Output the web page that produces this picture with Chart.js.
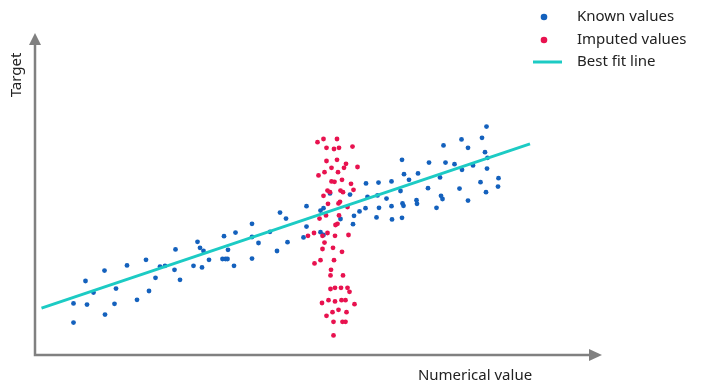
<!DOCTYPE html>
<html lang="en">
<head>
    <meta charset="UTF-8">
    <title>Imputation scatter</title>
    <script src="https://cdn.jsdelivr.net/npm/chart.js@4.4.0/dist/chart.umd.min.js"></script>
    <style>
        html, body { margin: 0; padding: 0; background: #ffffff; }
        #wrap { width: 711px; height: 390px; }
    </style>
</head>
<body>
    <div id="wrap"><canvas id="chart" width="711" height="390"></canvas></div>

    <script>
        // Known values (blue)
        const knownX = [7.7, 7.7, 10.4, 10.1, 11.7, 13.9, 14.0, 15.9, 16.2, 18.4,
            20.4, 22.2, 22.8, 24.1, 25.0, 26.0, 27.9, 28.1, 29.0, 31.7,
            32.5, 33.0, 33.4, 33.7, 34.8, 37.5, 38.1, 38.5, 37.8, 38.6,
            39.8, 40.1, 43.4, 43.4, 43.4, 44.7, 47.0, 48.4, 49.0, 50.2,
            50.5, 54.3, 54.3, 53.7, 57.1, 57.7, 59.0, 57.1, 57.7, 61.1,
            63.0, 63.8, 63.6, 64.9, 66.2, 66.1, 66.5, 68.3, 68.5, 68.7,
            68.8, 70.3, 71.3, 71.3, 71.4, 73.1, 73.4, 73.8, 73.5, 73.7,
            73.4, 74.8, 76.3, 76.4, 76.6, 78.6, 78.8, 80.3, 81.0, 81.2,
            81.5, 81.7, 82.1, 83.9, 84.9, 85.3, 85.4, 86.6, 86.6, 87.6,
            89.1, 89.4, 90.0, 90.3, 90.5, 90.4, 90.2, 92.7, 92.6];
        const knownY = [8.1, 12.9, 12.6, 18.5, 15.6, 21.1, 10.1, 12.8, 16.6, 22.4,
            13.8, 23.8, 16.0, 19.3, 22.1, 22.3, 21.3, 26.4, 18.8, 22.3,
            28.3, 26.8, 21.9, 26.0, 23.8, 24.0, 24.0, 24.0, 29.7, 26.3,
            22.3, 30.6, 32.8, 29.5, 24.1, 28.0, 30.8, 26.0, 35.6, 34.1,
            28.2, 37.2, 32.1, 29.4, 36.1, 36.7, 40.4, 30.7, 30.0, 34.0,
            40.1, 34.8, 32.7, 35.9, 42.9, 36.7, 39.5, 34.4, 39.9, 43.1,
            36.8, 39.1, 43.4, 37.2, 33.9, 41.0, 48.8, 45.2, 37.9, 37.3,
            34.3, 43.8, 38.7, 37.8, 45.4, 41.7, 48.1, 36.8, 44.4, 39.8,
            39.0, 52.4, 48.1, 47.7, 41.6, 53.9, 46.3, 51.8, 38.6, 47.4,
            43.2, 54.3, 50.7, 57.1, 49.3, 46.6, 40.7, 44.2, 42.1];

        // Imputed values (red)
        const imputedX = [56.5, 57.7, 58.3, 59.8, 60.4, 60.8, 63.5, 58.3, 60.4, 62.2,
            59.3, 61.8, 64.5, 57.9, 56.7, 60.6, 61.4, 59.3, 59.9, 63.2,
            63.7, 58.5, 59.0, 61.1, 61.6, 57.7, 58.6, 61.0, 60.7, 62.5,
            58.2, 56.9, 60.8, 60.5, 60.1, 54.6, 55.8, 57.5, 58.5, 60.0,
            62.7, 57.9, 57.5, 59.6, 61.4, 55.9, 57.1, 59.8, 59.2, 59.1,
            61.6, 59.1, 60.0, 61.2, 62.5, 62.9, 57.4, 58.7, 60.0, 61.3,
            62.1, 63.9, 60.7, 59.5, 62.3, 58.3, 59.7, 61.5, 62.1, 59.7];
        const imputedY = [53.2, 54.0, 51.8, 51.5, 54.0, 51.8, 52.1, 48.5, 48.8, 47.8,
            46.8, 46.8, 47.0, 45.7, 44.9, 45.7, 43.8, 43.4, 43.3, 42.8,
            41.3, 41.1, 40.7, 41.1, 40.7, 39.8, 37.8, 38.3, 37.9, 37.0,
            34.9, 34.1, 34.9, 32.8, 32.5, 29.8, 30.5, 29.8, 30.5, 29.8,
            30.0, 28.1, 26.5, 26.8, 25.8, 22.9, 23.7, 23.7, 21.3, 19.9,
            19.9, 16.5, 16.8, 16.8, 16.8, 15.8, 13.0, 13.7, 13.4, 13.7,
            13.7, 12.7, 11.3, 10.7, 10.7, 9.8, 8.3, 8.3, 8.3, 4.9];

        // Best fit line end points
        const fitX = [1.3, 99.0];
        const fitY = [11.7, 52.8];

        const legendLabels = ['Known values', 'Imputed values', 'Best fit line'];
        const axisTitles = { x: 'Numerical value', y: 'Target' };

        const toPoints = (xs, ys) => xs.map((x, i) => ({ x: x, y: ys[i] }));

        const BLUE = '#1461bd';
        const RED = '#e8124f';
        const CYAN = '#1ccbc4';
        const AXIS = '#808080';
        const FONT = '15px "Noto Sans", "Liberation Sans", sans-serif';

        // axes with arrow heads, axis titles and the legend
        const decorPlugin = {
            id: 'decor',
            afterDraw(chart) {
                const ctx = chart.ctx;
                const a = chart.chartArea;
                ctx.save();

                ctx.strokeStyle = AXIS;
                ctx.fillStyle = AXIS;
                ctx.lineWidth = 2.5;
                ctx.beginPath();
                ctx.moveTo(a.left, a.top + 8);
                ctx.lineTo(a.left, a.bottom);
                ctx.lineTo(a.right - 10, a.bottom);
                ctx.stroke();

                ctx.beginPath();
                ctx.moveTo(a.left, a.top - 2);
                ctx.lineTo(a.left - 6, a.top + 10);
                ctx.lineTo(a.left + 6, a.top + 10);
                ctx.closePath();
                ctx.fill();

                ctx.beginPath();
                ctx.moveTo(a.right, a.bottom);
                ctx.lineTo(a.right - 13, a.bottom - 6);
                ctx.lineTo(a.right - 13, a.bottom + 6);
                ctx.closePath();
                ctx.fill();

                ctx.fillStyle = '#222222';
                ctx.font = FONT;
                ctx.textBaseline = 'middle';
                ctx.textAlign = 'center';
                ctx.fillText(axisTitles.x, 475, 376);
                ctx.save();
                ctx.translate(17, 75);
                ctx.rotate(-Math.PI / 2);
                ctx.fillText(axisTitles.y, 0, 0);
                ctx.restore();

                // legend
                const rows = [17, 40, 62];
                ctx.textAlign = 'left';
                chart.data.datasets.forEach((ds, i) => {
                    const y = rows[i];
                    if (ds.type === 'line') {
                        ctx.strokeStyle = ds.borderColor;
                        ctx.lineWidth = 3;
                        ctx.beginPath();
                        ctx.moveTo(533, y);
                        ctx.lineTo(562, y);
                        ctx.stroke();
                    } else {
                        ctx.fillStyle = ds.backgroundColor;
                        ctx.beginPath();
                        ctx.arc(544, y, 3.3, 0, Math.PI * 2);
                        ctx.fill();
                    }
                    ctx.fillStyle = '#222222';
                    ctx.fillText(ds.label, 577, y);
                });

                ctx.restore();
            }
        };

        new Chart(document.getElementById('chart'), {
            type: 'scatter',
            data: {
                datasets: [{
                    label: legendLabels[0],
                    data: toPoints(knownX, knownY),
                    backgroundColor: BLUE,
                    borderColor: BLUE,
                    pointRadius: 2.4,
                    borderWidth: 0,
                    order: 2
                }, {
                    label: legendLabels[1],
                    data: toPoints(imputedX, imputedY),
                    backgroundColor: RED,
                    borderColor: RED,
                    pointRadius: 2.4,
                    borderWidth: 0,
                    order: 1
                }, {
                    type: 'line',
                    label: legendLabels[2],
                    data: toPoints(fitX, fitY),
                    borderColor: CYAN,
                    backgroundColor: CYAN,
                    borderWidth: 3,
                    pointRadius: 0,
                    fill: false,
                    order: 0
                }]
            },
            options: {
                responsive: false,
                animation: false,
                layout: { padding: { left: 35, right: 109, top: 35, bottom: 35 } },
                plugins: {
                    legend: { display: false },
                    tooltip: { enabled: false }
                },
                scales: {
                    x: { type: 'linear', min: 0, max: 113.4, display: false },
                    y: { type: 'linear', min: 0, max: 80, display: false }
                }
            },
            plugins: [decorPlugin]
        });
    </script>
</body>
</html>
